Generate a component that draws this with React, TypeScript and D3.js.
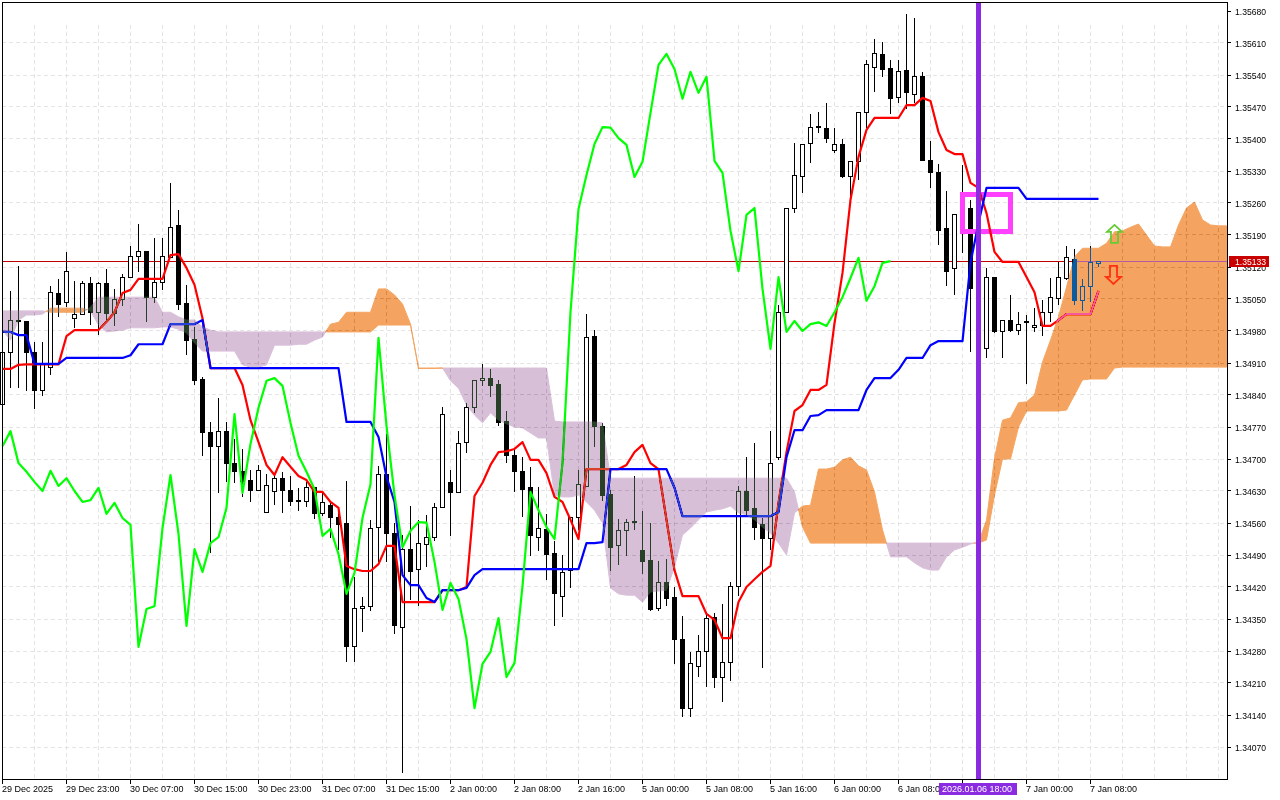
import * as d3 from "d3";
import { useEffect, useRef } from "react";

// prices are kept as points above 1.34000 (985 -> 1.34985), one entry per hourly bar
const opens = [
  820, 932, 1003, 1000, 932, 849, 901, 1063, 1043, 1008,
  1017, 1083, 1021, 1083, 1019, 1048, 1098, 1144, 1153, 1054,
  1085, 1140, 1210, 1041, 962, 873, 759, 728, 761, 691,
  672, 654, 632, 582, 628, 658, 632, 606, 608, 637,
  580, 599, 573, 558, 289, 374, 378, 551, 665, 538,
  332, 503, 459, 514, 529, 593, 648, 626, 735, 812,
  871, 877, 864, 781, 707, 672, 637, 529, 545, 494,
  400, 455, 571, 639, 967, 772, 623, 510, 543, 563,
  499, 477, 372, 429, 396, 306, 155, 247, 278, 354,
  223, 254, 422, 628, 591, 556, 527, 704, 1021, 1247,
  1319, 1391, 1427, 1422, 1374, 1389, 1317, 1350, 1459, 1557,
  1584, 1555, 1490, 1549, 1498, 1536, 1354, 1326, 1205, 1116,
  1234, 1247, 1072, 941, 1098, 978, 1002, 980, 1000, 987,
  991, 1021, 1050, 1094, 1137, 1046, 1078, 1127,
];
const highs = [
  949, 1068, 1122, 1002, 955, 955, 1078, 1094, 1153, 1089,
  1089, 1098, 1087, 1116, 1072, 1105, 1166, 1214, 1153, 1183,
  1183, 1304, 1245, 1081, 989, 879, 781, 833, 781, 744,
  722, 676, 687, 667, 667, 672, 663, 637, 650, 637,
  626, 606, 595, 652, 442, 398, 567, 685, 755, 560,
  534, 597, 567, 578, 604, 814, 676, 761, 823, 873,
  908, 897, 873, 805, 724, 704, 683, 639, 580, 521,
  490, 571, 676, 1017, 982, 779, 632, 569, 569, 663,
  586, 560, 477, 481, 420, 357, 278, 315, 361, 363,
  383, 431, 641, 704, 735, 571, 761, 1037, 1247, 1391,
  1389, 1455, 1459, 1479, 1424, 1400, 1350, 1457, 1573, 1619,
  1612, 1573, 1573, 1673, 1665, 1547, 1396, 1345, 1286, 1236,
  1343, 1267, 1092, 1118, 1098, 1002, 1059, 1021, 1015, 1030,
  1048, 1096, 1131, 1166, 1159, 1094, 1166, 1133,
];
const lows = [
  812, 855, 855, 849, 809, 838, 884, 1011, 1032, 987,
  1015, 993, 971, 997, 991, 1035, 1098, 1109, 1000, 1041,
  1070, 1140, 1026, 927, 862, 707, 494, 626, 650, 648,
  617, 606, 630, 582, 599, 582, 597, 586, 595, 569,
  575, 527, 501, 256, 256, 321, 367, 475, 475, 317,
  13, 392, 378, 464, 521, 593, 532, 626, 713, 801,
  860, 836, 772, 691, 628, 573, 488, 499, 435, 335,
  354, 418, 545, 639, 726, 608, 455, 468, 488, 545,
  448, 367, 367, 378, 252, 136, 136, 223, 201, 199,
  168, 214, 400, 575, 523, 243, 501, 698, 1019, 1238,
  1282, 1348, 1413, 1391, 1369, 1315, 1273, 1310, 1424, 1503,
  1536, 1455, 1479, 1466, 1479, 1352, 1293, 1168, 1078, 1059,
  1151, 934, 927, 921, 976, 921, 978, 971, 864, 978,
  969, 1000, 1037, 1092, 1037, 1024, 1043, 1120,
];
const closes = [
  932, 1004, 1001, 932, 849, 906, 1065, 1039, 1111, 1017,
  1083, 1021, 1083, 1019, 1048, 1098, 1142, 1153, 1054, 1085,
  1142, 1207, 1037, 960, 871, 757, 728, 761, 691, 672,
  650, 630, 674, 641, 658, 630, 606, 610, 637, 580,
  604, 571, 556, 289, 372, 378, 549, 665, 536, 335,
  503, 453, 516, 529, 593, 798, 626, 733, 812, 871,
  877, 860, 779, 707, 672, 634, 532, 547, 492, 405,
  451, 571, 645, 965, 772, 621, 507, 543, 562, 561,
  475, 370, 429, 394, 306, 155, 252, 278, 352, 223,
  254, 422, 628, 588, 551, 525, 691, 1021, 1247, 1321,
  1389, 1426, 1425, 1402, 1387, 1317, 1350, 1457, 1562, 1586,
  1553, 1488, 1547, 1501, 1536, 1352, 1326, 1199, 1111, 1234,
  1249, 1072, 941, 1098, 978, 1002, 980, 995, 999, 991,
  1021, 1054, 1096, 1140, 1046, 1078, 1129, 1133,
];
const tenkan = [
  897, 897, 906, 907, 907, 907, 907, 907, 969, 982,
  982, 982, 982, 1000, 1021, 1063, 1070, 1094, 1094, 1094,
  1094, 1146, 1148, 1118, 1081, 1008, 899, 899, 899, 899,
  862, 785, 737, 687, 665, 704, 683, 663, 654, 628,
  628, 606, 593, 466, 459, 455, 455, 470, 510, 510,
  387, 387, 387, 387, 387, 413, 413, 413, 420, 619,
  648, 687, 715, 717, 722, 737, 698, 698, 669, 617,
  606, 567, 525, 678, 678, 678, 678, 678, 687, 715,
  731, 691, 678, 567, 457, 400, 400, 400, 361, 348,
  308, 308, 387, 420, 437, 453, 466, 604, 715, 805,
  818, 851, 851, 862, 997, 1107, 1267, 1361, 1420, 1446,
  1446, 1446, 1446, 1474, 1474, 1490, 1483, 1415, 1376, 1367,
  1367, 1304, 1293, 1238, 1153, 1131, 1131, 1131, 1098, 1065,
  991, 991, 1004, 1017, 1017, 1017, 1017, 1068,
];
const kijun = [
  978, 978, 971, 971, 908, 908, 908, 908, 921, 921,
  921, 921, 921, 921, 921, 921, 927, 951, 951, 951,
  951, 995, 995, 995, 995, 1004, 899, 899, 899, 899,
  899, 899, 899, 899, 899, 899, 899, 899, 899, 899,
  899, 899, 899, 781, 781, 781, 781, 748, 661, 606,
  446, 424, 424, 396, 387, 413, 413, 413, 418, 446,
  459, 459, 459, 459, 459, 459, 459, 459, 459, 459,
  459, 459, 459, 516, 516, 518, 678, 678, 678, 678,
  678, 678, 678, 678, 637, 575, 575, 575, 575, 575,
  575, 575, 575, 575, 575, 575, 575, 584, 704, 763,
  763, 794, 796, 807, 807, 807, 807, 807, 851, 877,
  877, 877, 895, 921, 921, 921, 949, 958, 958, 958,
  958, 1129, 1216, 1293, 1293, 1293, 1293, 1293, 1269, 1269,
  1269, 1269, 1269, 1269, 1269, 1269, 1269, 1269,
];
// the lagging line is the close moved back 26 bars
const chikou = closes.slice(26);
// the cloud runs on past the last bar
const spanA = [
  982, 960, 1004, 1015, 1015, 1017, 1030, 1030, 1030, 1030,
  1030, 1024, 993, 978, 980, 982, 987, 987, 987, 987,
  989, 989, 984, 976, 954, 936, 936, 936, 936, 936,
  906, 901, 901, 906, 949, 949, 949, 951, 951, 960,
  967, 995, 999, 1021, 1021, 1021, 1021, 1072, 1072, 1059,
  1039, 995, 899, 899, 899, 899, 871, 855, 818, 796,
  779, 801, 785, 777, 770, 768, 757, 746, 746, 621,
  617, 617, 621, 606, 588, 560, 418, 405, 402, 402,
  387, 409, 411, 413, 464, 534, 549, 567, 584, 588,
  591, 597, 582, 578, 567, 551, 538, 516, 490, 582,
  597, 599, 678, 678, 682, 698, 704, 685, 676, 628,
  545, 486, 486, 486, 473, 462, 457, 457, 486, 501,
  507, 514, 518, 566, 702, 785, 790, 823, 825, 840,
  912, 960, 1011, 1076, 1142, 1161, 1161, 1161, 1172, 1197,
  1199, 1207, 1214, 1190, 1166, 1164, 1164, 1212, 1249, 1262,
  1223, 1212, 1210, 1210,
];
const spanB = [
  1024, 1024, 1024, 1024, 1024, 1024, 1021, 1021, 1021, 1021,
  1021, 1032, 1054, 1054, 1054, 1054, 1054, 1054, 1054, 1054,
  1021, 1021, 1011, 1004, 1004, 989, 982, 978, 978, 978,
  978, 978, 978, 978, 978, 978, 978, 978, 978, 978,
  978, 978, 978, 978, 978, 978, 978, 993, 993, 993,
  993, 993, 898, 898, 898, 899, 899, 899, 899, 899,
  899, 899, 899, 899, 899, 899, 899, 899, 899, 783,
  781, 781, 781, 781, 781, 779, 658, 658, 658, 658,
  658, 658, 658, 658, 658, 658, 658, 658, 658, 658,
  658, 658, 658, 658, 658, 658, 658, 658, 658, 628,
  551, 516, 516, 516, 516, 516, 516, 516, 516, 516,
  516, 516, 516, 516, 516, 516, 516, 516, 516, 516,
  516, 516, 516, 523, 621, 700, 700, 770, 805, 805,
  805, 805, 805, 807, 840, 873, 875, 875, 875, 899,
  901, 901, 901, 901, 901, 901, 901, 901, 901, 901,
  901, 901, 901, 901,
];
const priceTicks = [
  1.3407, 1.3414, 1.3421, 1.3428, 1.3435, 1.3442, 1.3449, 1.3456, 1.3463, 1.347,
  1.3477, 1.3484, 1.3491, 1.3498, 1.3505, 1.3512, 1.3519, 1.3526, 1.3533, 1.354,
  1.3547, 1.3554, 1.3561, 1.3568,
];
// one label every 8 bars, the 6 Jan 16:00 one sits under the marker tag so it stays empty
const timeLabels = [
  "29 Dec 2025", "29 Dec 23:00", "30 Dec 07:00", "30 Dec 15:00", "30 Dec 23:00", "31 Dec 07:00",
  "31 Dec 15:00", "2 Jan 00:00", "2 Jan 08:00", "2 Jan 16:00", "5 Jan 00:00", "5 Jan 08:00",
  "5 Jan 16:00", "6 Jan 00:00", "6 Jan 08:00", "", "7 Jan 00:00", "7 Jan 08:00",
];
const lastPrice = 1133;
const markerBar = 122;
const markerLabel = "2026.01.06 18:00";

const price = (p: number) => 1.34 + p / 100000;
const font = "'Liberation Sans', sans-serif";

export default function App() {
  const svgRef = useRef(null);

  useEffect(() => {
    const svg = d3.select(svgRef.current);
    svg.selectAll("*").remove();
    const left = 2;
    const right = 1227;
    const top = 2;
    const bottom = 779;

    const x = d3.scaleLinear().domain([0, 1]).range([2.5, 10.5]);
    const y = d3.scaleLinear().domain([1.3407, 1.3568]).range([747, 11]);
    const yp = (p: number) => y(price(p));
    const snap = (v: number) => Math.round(v - 0.5) + 0.5;

    svg.append("rect").attr("width", 1280).attr("height", 800).attr("fill", "#fff");

    // grid
    const grid = svg.append("g").attr("stroke", "#e4e4e4").attr("stroke-dasharray", "4 3").attr("shape-rendering", "crispEdges");
    priceTicks.slice(0, -1).forEach((t) => {
      grid.append("line").attr("x1", left).attr("x2", right).attr("y1", snap(y(t))).attr("y2", snap(y(t)));
    });
    d3.range(4, 154, 4).forEach((i) => {
      grid.append("line").attr("x1", x(i)).attr("x2", x(i)).attr("y1", 25).attr("y2", bottom);
    });

    // last price line
    svg.append("line").attr("x1", left).attr("x2", right)
      .attr("y1", snap(yp(lastPrice))).attr("y2", snap(yp(lastPrice)))
      .attr("stroke", "#c00000").attr("shape-rendering", "crispEdges");

    // candles
    const candles = svg.append("g").attr("shape-rendering", "crispEdges");
    opens.forEach((o, i) => {
      const c = closes[i];
      const up = c >= o;
      const y0 = snap(yp(Math.max(o, c)));
      const y1 = snap(yp(Math.min(o, c)));
      candles.append("line").attr("x1", x(i)).attr("x2", x(i))
        .attr("y1", yp(highs[i])).attr("y2", yp(lows[i])).attr("stroke", "#000");
      candles.append("rect").attr("x", x(i) - 2).attr("width", 4)
        .attr("y", y0).attr("height", Math.max(y1 - y0, 0))
        .attr("fill", up ? "#fff" : "#000").attr("stroke", "#000");
    });

    // signal box around the cross
    svg.append("rect").attr("x", 962.5).attr("y", 194.5).attr("width", 48).attr("height", 37)
      .attr("fill", "none").attr("stroke", "#ff40ff").attr("stroke-width", 5).attr("shape-rendering", "crispEdges");

    // ichimoku lines
    const line = d3.line<number>().x((_, i) => x(i)).y((d) => yp(d));
    [[tenkan, "#ff0000"], [kijun, "#0000ff"], [chikou, "#00ff00"]].forEach(([values, color]) => {
      svg.append("path").attr("d", line(values as number[])).attr("fill", "none")
        .attr("stroke", color as string).attr("stroke-width", 2.2)
        .attr("stroke-linejoin", "round");
    });

    // cloud: difference with the inverted colour gives sandybrown / thistle over white,
    // and turns whatever lies under it the way the terminal does
    const points: { i: number; a: number; b: number }[] = [];
    spanA.forEach((a, i) => {
      const b = spanB[i];
      points.push({ i, a, b });
      if (i < spanA.length - 1) {
        const d0 = a - b;
        const d1 = spanA[i + 1] - spanB[i + 1];
        if (d0 * d1 < 0) {
          const t = d0 / (d0 - d1);
          const v = a + t * (spanA[i + 1] - a);
          points.push({ i: i + t, a: v, b: v });
        }
      }
    });
    const area = d3.area<{ i: number; a: number; b: number }>()
      .x((d) => x(d.i)).y0((d) => yp(d.a)).y1((d) => yp(d.b));
    const cloud = svg.append("g").attr("stroke-width", 1);
    cloud.append("path")
      .attr("d", area.defined((d) => d.a >= d.b)(points))
      .attr("fill", "#0b5b9f").attr("stroke", "#0b5b9f").style("mix-blend-mode", "difference");
    cloud.append("path")
      .attr("d", area.defined((d) => d.a <= d.b)(points))
      .attr("fill", "#274027").attr("stroke", "#274027").style("mix-blend-mode", "difference");

    // entry arrows next to the last bar
    const upX = x(139);
    const upY = yp(1212);
    svg.append("path").attr("fill", "none").attr("stroke", "#66cc33").attr("stroke-width", 1.8)
      .attr("d", `M${upX},${upY}l7.5,7h-4v11h-7v-11h-4z`);
    const downX = x(139) - 1;
    const downY = yp(1083);
    svg.append("path").attr("fill", "none").attr("stroke", "#ff3010").attr("stroke-width", 1.8)
      .attr("d", `M${downX},${downY}l7.5,-7h-4v-11h-7v11h-4z`);

    // vertical marker
    svg.append("line").attr("x1", x(markerBar)).attr("x2", x(markerBar)).attr("y1", top).attr("y2", bottom)
      .attr("stroke", "#8a2be2").attr("stroke-width", 5).attr("shape-rendering", "crispEdges");

    // frame
    svg.append("path").attr("d", `M${left},${top}H${right}V${bottom}H${left}Z`)
      .attr("fill", "none").attr("stroke", "#000").attr("shape-rendering", "crispEdges");

    // price axis
    const yAxis = svg.append("g").style("font-family", font).style("font-size", "8.6px").attr("fill", "#000");
    priceTicks.forEach((t) => {
      yAxis.append("line").attr("x1", right).attr("x2", right + 4).attr("y1", snap(y(t))).attr("y2", snap(y(t)))
        .attr("stroke", "#000").attr("shape-rendering", "crispEdges");
      yAxis.append("text").attr("x", 1235).attr("y", y(t) + 3.5).text(t.toFixed(5));
    });

    // time axis
    const xAxis = svg.append("g").style("font-family", font).style("font-size", "9px").attr("fill", "#000");
    timeLabels.forEach((label, k) => {
      const tx = x(k * 8);
      xAxis.append("line").attr("x1", tx).attr("x2", tx).attr("y1", bottom).attr("y2", bottom + 5)
        .attr("stroke", "#000").attr("shape-rendering", "crispEdges");
      if (label) xAxis.append("text").attr("x", tx - 0.5).attr("y", 792).text(label);
    });

    // last price tag
    const tagY = snap(yp(lastPrice));
    svg.append("rect").attr("x", 1229).attr("y", tagY - 5.5).attr("width", 40).attr("height", 11).attr("fill", "#c80000");
    svg.append("text").attr("x", 1235).attr("y", tagY + 3.5).attr("fill", "#fff")
      .style("font-family", font).style("font-size", "8.6px").text(price(lastPrice).toFixed(5));

    // marker time tag
    svg.append("rect").attr("x", 939).attr("y", 783).attr("width", 78).attr("height", 12).attr("fill", "#8a2be2");
    svg.append("text").attr("x", 942).attr("y", 792).attr("fill", "#fff")
      .style("font-family", font).style("font-size", "9px").text(markerLabel);
  }, []);

  return (
    <svg
      ref={svgRef}
      width={1280}
      height={800}
      style={{ position: "absolute", left: 0, top: 0, display: "block" }}
    />
  );
}
